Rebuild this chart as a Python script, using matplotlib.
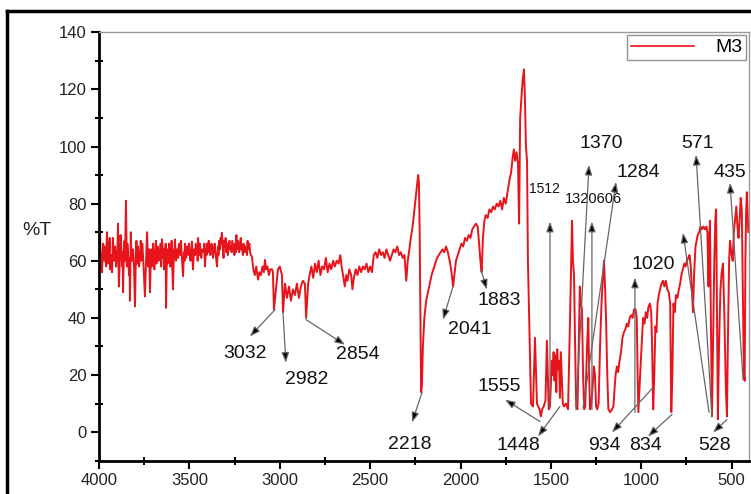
import numpy as np
import matplotlib
matplotlib.use("Agg")
import matplotlib.pyplot as plt
from matplotlib.lines import Line2D
from matplotlib.ticker import MultipleLocator

plt.rcParams['font.family'] = ['Liberation Sans', 'DejaVu Sans']

# spectrum M3 (wavenumber cm-1, %T)
wn_noisy = [4000, 3997, 3994, 3991, 3988, 3983, 3980, 3977, 3971, 3968, 3965, 3961, 3956, 3953,
            3950, 3944, 3941, 3938, 3932, 3928, 3923, 3920, 3917, 3911, 3908, 3905, 3899, 3897,
            3895, 3890, 3884, 3881, 3878, 3872, 3869, 3867, 3862, 3859, 3856, 3851, 3846, 3843,
            3840, 3834, 3831, 3829, 3824, 3821, 3818, 3812, 3809, 3806, 3801, 3796, 3793, 3790,
            3784, 3781, 3778, 3772, 3769, 3766, 3760, 3756, 3752, 3746, 3740, 3737, 3734, 3728,
            3725, 3722, 3718, 3712, 3709, 3706, 3700, 3697, 3694, 3688, 3685, 3682, 3676, 3673,
            3670, 3662, 3659, 3656, 3651, 3645, 3642, 3640, 3634, 3631, 3629, 3624, 3621, 3618,
            3612, 3609, 3606, 3600, 3598, 3596, 3591, 3585, 3582, 3580, 3574, 3571, 3568, 3562,
            3559, 3556, 3550, 3547, 3544, 3535, 3530, 3527, 3524, 3518, 3515, 3512, 3506, 3503,
            3500, 3494, 3490, 3486, 3480, 3477, 3474, 3468, 3465, 3462, 3456, 3454, 3452, 3446,
            3443, 3440, 3434, 3431, 3428, 3420, 3417, 3414, 3408, 3405, 3402, 3396, 3393, 3390,
            3384, 3381, 3378, 3372, 3369, 3366, 3360, 3357, 3354, 3347, 3342, 3339, 3336, 3330,
            3327, 3325, 3320, 3314, 3311, 3308, 3302, 3299, 3296, 3290, 3287, 3284, 3278, 3275,
            3272, 3266, 3263, 3260, 3254, 3251, 3248, 3242, 3240, 3237, 3231, 3228, 3225, 3219,
            3216, 3213, 3207, 3204, 3201, 3195, 3192, 3189, 3181, 3178, 3175, 3168, 3164, 3160]
t_noisy = [62, 66, 70, 61, 58, 56, 63, 66, 60, 65, 63, 58, 70, 62,
           59, 64, 68, 57, 62, 56, 68, 63, 60, 65, 61, 58, 63, 66,
           73, 51, 62, 69, 66, 58, 63, 49, 64, 67, 60, 81, 58, 66,
           63, 55, 61, 46, 70, 62, 60, 64, 61, 57, 44, 62, 67, 59,
           65, 60, 58, 63, 67, 60, 66, 61, 56, 47.5, 60, 65, 70, 58,
           64, 62, 49, 64, 58, 60, 66, 61, 57, 63, 67, 59, 65, 61,
           60, 63, 66, 58, 67.5, 61, 64, 57, 62, 66, 43.5, 64, 59, 60,
           66, 62, 58, 63, 67, 61, 50, 64, 61, 67.5, 60, 63, 64, 61,
           65, 66, 62, 67, 64, 54.6, 63, 60, 66, 61, 64, 65, 62, 66,
           64, 60, 63, 66.7, 57, 61, 64, 62, 66, 65, 63, 60, 68, 62,
           66, 65, 61, 63, 64, 63, 66, 58, 64, 62, 66, 63, 67, 65,
           62, 64, 66, 64, 61, 63, 66, 64, 62, 58, 65, 62, 67, 64,
           68, 66, 69.8, 64, 61, 67, 65, 68, 63, 66, 62, 64, 67, 64,
           65, 63, 67, 66, 64, 62, 66, 63, 69, 64, 67, 66, 63, 65,
           68, 64, 64, 62, 66, 63, 65, 65, 62, 67, 64, 66, 63, 62]

wn_mid = [3154, 3146, 3138, 3130, 3120, 3112, 3104, 3096, 3088, 3082, 3076, 3068, 3060, 3052,
          3043, 3038, 3032, 3010, 3000, 2988, 2982, 2971, 2960, 2949, 2938, 2927, 2916, 2905,
          2894, 2883, 2872, 2861, 2854, 2843, 2835, 2825, 2815, 2805, 2795, 2785, 2775, 2765,
          2755, 2745, 2735, 2725, 2715, 2705, 2695, 2685, 2675, 2665, 2658, 2650, 2640, 2632,
          2625, 2615, 2605, 2598, 2590, 2580, 2570, 2560, 2550, 2540, 2530, 2520, 2510, 2500,
          2490, 2480, 2470, 2460, 2450, 2440, 2430, 2420, 2410, 2400, 2390, 2380, 2370, 2360,
          2350, 2340, 2330, 2320, 2310, 2300, 2292, 2285, 2275, 2265, 2255, 2245, 2238, 2234,
          2230, 2226, 2222, 2218, 2214, 2208, 2200, 2190, 2180, 2170, 2160, 2150, 2140, 2130,
          2120, 2110, 2100, 2090, 2080, 2070, 2060, 2050, 2041, 2034, 2025, 2015, 2005, 1995,
          1985, 1975, 1965, 1955, 1945, 1935, 1925, 1915, 1905, 1897, 1890, 1883, 1876, 1868,
          1860, 1850, 1840, 1830, 1820, 1810, 1800, 1790, 1780, 1770, 1760, 1750, 1740, 1730,
          1720, 1712, 1705, 1698, 1690, 1682, 1676, 1670, 1662, 1655, 1649, 1644, 1638, 1632,
          1627, 1618, 1610]
t_mid = [61.4, 57, 55, 58, 53.4, 56, 55, 58, 56, 60.3, 57, 58, 55, 57,
         57, 56, 43, 57, 58, 55, 42, 52, 47, 51, 46, 50, 48, 52,
         47, 51, 53, 52, 40, 52, 55, 58, 54, 59, 56, 60, 55, 58,
         57, 61, 56, 59, 57, 60, 58, 60, 59, 62, 58, 55, 51, 55,
         53, 57, 55, 50, 54, 57, 55, 58, 56, 58, 57, 59, 56, 58,
         56, 62, 63, 61, 64, 62, 63, 61, 64, 62, 60, 62, 64, 63,
         65, 62, 63, 61, 62, 53, 60, 63, 68, 72, 78, 84, 88, 90,
         87, 70, 40, 14, 16, 30, 40, 46, 49, 52, 55, 57, 59, 61,
         62, 63, 64, 63, 65, 63, 60, 56, 51, 55, 60, 62, 64, 66,
         65, 68, 67, 69, 68, 71, 72, 73, 72, 66, 60, 56, 68, 74,
         76, 75, 78, 77, 79, 78, 80, 79, 81, 78, 82, 80, 84, 88,
         91, 96, 99, 95, 98, 94, 73, 110, 118, 124, 127, 118, 100, 95,
         60, 33, 10]

wn_fp = [1599, 1588, 1577, 1570, 1563, 1555, 1548, 1540, 1530, 1522, 1512, 1505, 1495, 1490,
         1485, 1480, 1475, 1470, 1465, 1460, 1455, 1450, 1445, 1440, 1434, 1428, 1416, 1405,
         1394, 1383, 1378, 1372, 1366, 1360, 1353, 1346, 1340, 1334, 1328, 1322, 1316, 1310,
         1300, 1293, 1288, 1284, 1278, 1270, 1262, 1256, 1250, 1244, 1236, 1228, 1220, 1212,
         1206, 1200, 1195, 1188, 1182, 1172, 1162, 1154, 1148, 1142, 1135, 1128, 1120, 1112,
         1104, 1096, 1088, 1080, 1072, 1064, 1056, 1048, 1040, 1032, 1025, 1020, 1016, 1010,
         1004, 998, 990, 982, 975, 968, 960, 952, 945, 940, 934, 928, 922, 916,
         910, 903, 896, 888, 880, 872, 864, 856, 848, 840, 834, 828, 822, 815,
         808, 800, 792, 785, 778, 770, 762, 755, 748, 740, 733, 726, 720, 714,
         708, 700, 694, 688, 680, 672, 664, 656, 648, 640, 634, 628, 624, 620,
         615, 609, 603, 596, 590, 586, 582, 576, 570, 562, 555, 548, 540, 532,
         526, 520, 514, 509, 500, 494, 488, 480, 474, 468, 462, 456, 450, 444,
         438, 432, 428, 424, 420, 416, 412, 408, 404]
t_fp = [9, 33, 10, 9, 8, 5.5, 8, 9, 11, 32, 8, 9, 25, 20,
        28, 18, 27, 14, 29, 22, 25, 12, 28, 20, 10, 9, 10, 8,
        40, 74, 60, 55, 30, 9, 8, 30, 51, 45, 43, 20, 8, 9,
        30, 40, 20, 8, 9, 15, 23, 20, 9, 8, 10, 30, 45, 55,
        60, 50, 40, 20, 8, 7, 8, 9, 15, 20, 23, 21, 25, 28,
        33, 35, 36, 38, 37, 40, 41, 40, 43, 43, 40, 20, 7, 15,
        23, 30, 40, 38, 42, 40, 44, 45, 42, 30, 8, 20, 37, 35,
        45, 48, 50, 52, 53, 51, 53, 50, 49, 45, 7, 20, 45, 42,
        48, 47, 50, 52, 55, 57, 59, 58, 60, 61, 62, 58, 50, 42,
        55, 65, 67, 69, 70, 72, 71, 72, 71, 72, 70, 51, 68, 74,
        40, 5.5, 30, 60, 75, 78, 50, 4.5, 30, 50, 56, 59, 40, 15,
        5.5, 35, 60, 67, 62, 60, 70, 75, 79, 72, 68, 74, 82, 78,
        50, 20, 18, 60, 77, 84, 78, 70, 70]

wavenumber = np.array(wn_noisy + wn_mid + wn_fp)
transmit = np.array(t_noisy + t_mid + t_fp)

# peak labels: text, arrow tail (on curve), arrow head, text position, size
peak_labels = ['3032', '2982', '2854', '2218', '2041', '1883', '1555', '1448',
               '1512', '1320606', '1370', '1284', '1020', '934', '834', '528',
               '571', '', '435']
arrow_tail = [(3026, 42.9), (2982, 41.8), (2855, 39.4), (2213, 13.9), (2042, 50.9),
              (1887, 56.9), (1560, 3.7), (1450, 9.0), (1505, 9.0), (1273, 7.9),
              (1361, 7.9), (1322, 8.6), (1035, 6.9), (935, 15.6), (830, 6.2),
              (526, 4.4), (609, 5.5), (625, 6.9), (437, 18.4)]
arrow_head = [(3165, 33.5), (2966, 24.3), (2639, 30.6), (2268, 3.4), (2097, 39.4),
              (1854, 49.9), (1754, 11.4), (1571, -1.5), (1505, 73.7), (1273, 73.7),
              (1289, 93.6), (1140, 87.6), (1035, 54.1), (1162, -0.1), (963, -1.5),
              (603, -0.1), (697, 97.1), (769, 69.8), (509, 87.3)]
label_pos = [(3192, 27.5), (2849, 18.4), (2567, 27.2), (2280, -4.3), (1948, 35.9),
             (1787, 46.0), (1787, 16.0), (1682, -4.7), (1538, 85.2), (1262, 81.7),
             (1223, 100.9), (1018, 90.8), (935, 58.6), (1206, -4.7), (974, -4.7),
             (592, -4.7), (686, 100.9), (769, 69.8), (509, 90.8)]
label_size = [14, 14, 14, 14, 14, 14, 14, 14, 10, 10.5, 14, 14, 14, 14, 14, 14, 14, 14, 14]

fig = plt.figure(figsize=(7.51, 4.94), dpi=100)
ax = fig.add_axes([99/751, 1 - 460.7/494, 650/751, (460.7 - 32.3)/494])

ax.plot(wavenumber, transmit, color='#e8141c', lw=1.4, label='M3')

for lab, tail, head, pos, fs in zip(peak_labels, arrow_tail, arrow_head, label_pos, label_size):
    ax.annotate('', xy=head, xytext=tail,
                arrowprops=dict(arrowstyle='-|>,head_length=0.6,head_width=0.22',
                                ec='#666666', fc='black', lw=0.9, shrinkA=0, shrinkB=0),
                annotation_clip=False)
    if lab:
        ax.text(pos[0], pos[1], lab, fontsize=fs, ha='center', va='center',
                color='#111111', clip_on=False)

ax.set_xlim(4000, 404)
ax.set_ylim(-10, 140)
ax.xaxis.set_major_locator(MultipleLocator(500))
ax.xaxis.set_minor_locator(MultipleLocator(250))
ax.yaxis.set_major_locator(MultipleLocator(20))
ax.yaxis.set_minor_locator(MultipleLocator(10))
ax.tick_params(which='major', direction='out', length=6, width=1.5, labelsize=12,
               labelcolor='#222222', pad=3)
ax.tick_params(which='minor', direction='inout', length=6, width=1.5)
ax.tick_params(top=False, right=False)

ax.spines['left'].set_linewidth(2)
ax.spines['bottom'].set_linewidth(2)
ax.spines['top'].set_color('#999999')
ax.spines['right'].set_color('#999999')
ax.spines['top'].set_linewidth(1)
ax.spines['right'].set_linewidth(1)

fig.text(37/751, 1 - 230/494, '%T', fontsize=14, ha='center', va='center', color='#222222')

leg = ax.legend(loc='upper right', bbox_to_anchor=(746/751, 1 - 35/494),
                bbox_transform=fig.transFigure, fancybox=False, edgecolor='#777777',
                fontsize=14, handlelength=3.2, borderpad=0.2, borderaxespad=0,
                handletextpad=1.1)
leg.get_frame().set_linewidth(1)
leg.get_lines()[0].set_linewidth(1.2)

# outer black frame (cropped screenshot edge)
fig.add_artist(Line2D([7/751, 1], [1 - 11/494, 1 - 11/494], color='black', lw=2.5,
                      transform=fig.transFigure))
fig.add_artist(Line2D([7/751, 7/751], [0, 1 - 11/494], color='black', lw=2.5,
                      transform=fig.transFigure))

fig.savefig('out.png', dpi=100)
